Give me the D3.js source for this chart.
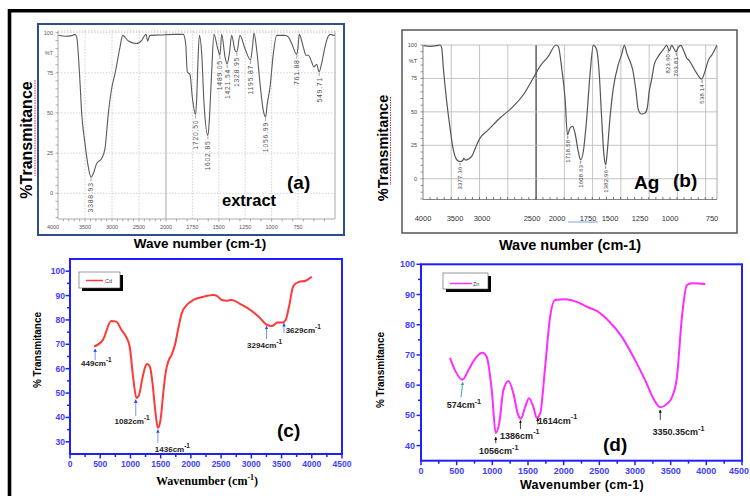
<!DOCTYPE html>
<html><head><meta charset="utf-8">
<script src="https://cdn.jsdelivr.net/npm/d3@7"></script>
<style>body{margin:0;background:#fff}svg{display:block}</style>
</head><body><svg id="chart" width="750" height="496"></svg>
<script>
// ---------------- DATA ----------------
// (a) extract
const aWn = [3990,3870,3746,3685,3654,3605,3561,3500,3439,3389,3346,3284,3191,3130,3068,3006,2944,2852,2802,2698,2543,2450,2370,2339,2296,2111,1931,1836,1814,1798,1773,1751,1720,1710,1697,1684,1662,1640,1603,1590,1567,1546,1510,1489,1473,1441,1421,1400,1378,1347,1329,1300,1252,1200,1180,1167,1141,1110,1079,1057,1041,1015,984,952,873,842,810,762,750,738,700,675,653,621,600,574,550,527,495,464,441,416,400];
const aT  = [98.3,97.7,98.1,98.9,97.3,76.5,49.6,30.9,16.4,10.0,12.3,18.5,21.6,27.8,49.6,65.2,74.5,91,98.3,94.8,93.2,95.2,98.9,94.8,98.3,98.5,98.9,98.9,93.2,75.5,74,59.9,49,58,82.8,98.3,86.9,55.8,36,45.4,76.5,98.9,90,86,98.9,84.8,80.5,86.9,98.3,89,88,98.3,90,83,92,99.8,89,68.3,51.6,47.5,55.8,66.1,86.9,98.3,98.3,97.3,93.2,86.5,91,98.9,91,85.9,85.9,81.7,78.6,80.3,75.5,80.7,91,97.7,98.9,98.3,98.5];
const aPeakLabels = ["3388.93","1720.50","1602.85","1489.05","1421.54","1328.95","1195.87","1056.99","761.88","549.71"];
const aPeakWn = [3389,1720,1603,1489,1421,1329,1200,1057,762,550];
const aPeakT  = [10,49,36,86,80.5,88,83,47.5,86.5,75.5];
const aXTicks = [4000,3500,3000,2500,2000,1750,1500,1250,1000,750];
const aYTicks = [0,25,50,75,100];

// (b) Ag
const bWn = [3995,3923,3849,3812,3793,3775,3738,3701,3665,3627,3591,3561,3550,3530,3499,3462,3406,3370,3296,3149,3002,2891,2781,2707,2615,2530,2504,2467,2430,2403,2375,2345,2320,2283,2257,2228,2190,2154,2117,2080,2051,2025,2000,1980,1963,1933,1896,1841,1804,1774,1748,1712,1682,1645,1620,1583,1546,1521,1499,1473,1444,1399,1344,1306,1277,1251,1225,1203,1178,1151,1115,1085,1056,1019,975,920,883,846,798,752];
const bT  = [99.5,99,99.5,100,97.8,82.8,57.8,37.9,21.7,14.2,12.9,13.7,15.2,14,14.7,16.7,25.4,30.4,35.4,45.4,54.1,62.8,75.3,84,91.5,100,99,82.8,60.4,32.9,37.9,39.1,34.2,20.4,14.2,20.4,45.4,77.8,99.7,96.5,77.8,45.4,17.9,10.5,20.4,45.4,67.8,85.3,92.8,99.7,94,87.8,81.5,65.3,51.6,48.4,49.1,52.9,65.3,74.1,85.3,91.5,96.5,99.7,95.7,99.7,97.2,94.8,98.2,99.7,95.2,90.3,88.3,84,79,74.5,80.3,88.5,93.5,99.7];
const bPeakLabels = ["3377.36","1718.58","1608.63","1382.96","823.60","763.81","538.14"];
const bPeakAt = [3591,2400,2257,1980,1290,1200,915];
const bPeakT  = [12.9,32.9,14.2,10.5,97,94.8,74.5];
const bTickLabels = ["4000","3500","3000","2500","2000","1750","1500","1250","1000","750"];
const bTickAt = [4000,3646,3348,2795,2519,2176,1933,1601,1269,805];
const bYTicks = [0,25,50,75,100];
const bGridStep = 312.5;

// (c) Cd
const cWn = [400,544,682,766,849,921,988,1043,1099,1143,1193,1237,1276,1321,1365,1409,1454,1498,1543,1581,1626,1681,1737,1792,1848,1931,2042,2208,2374,2429,2512,2596,2679,2818,2984,3123,3262,3345,3429,3512,3568,3623,3695,3789,3900,4000];
const cT  = [69.1,71.8,79.6,79.3,76,73.4,69,56.8,48,49.3,55.5,60.2,61.9,60.9,54.1,43.2,35.7,39.1,50,58.2,63,65.7,69.8,76.6,82.7,86.1,88.2,89.5,90.2,89.9,88.2,87.9,88.2,86.5,84.1,81.3,77.9,77.5,78.9,78.9,80,85.4,93.9,95.6,96.1,97.7];
const cNotes = ["449","1082","1436","3294","3629"];
const cArrowWn = [416,1088,1454,3251,3540];
const cArrowTip = [68.1,47.3,35.0,77.5,78.6];
const cArrowTail = [63.6,40.5,29.6,72.1,74.5];
const cNoteWn = [183,738,1404,2930,3568];
const cNoteT = [61.3,37.5,25.8,68.4,74.8];
const cXTicks = [0,500,1000,1500,2000,2500,3000,3500,4000,4500];
const cYTicks = [30,40,50,60,70,80,90,100];

// (d) Zn
const dWn = [407,477,580,664,734,861,922,992,1048,1095,1155,1226,1296,1357,1399,1459,1516,1576,1623,1670,1740,1810,1880,2021,2208,2348,2465,2629,2816,3003,3143,3260,3354,3448,3518,3588,3658,3728,3798,3985];
const dT  = [69,64.9,61.8,64.9,67.9,70.7,69.3,58.3,44.2,47.2,58.3,61.4,57.2,50.5,48.9,52.7,55.7,52.7,49.2,50.5,66,82.6,88.2,88.4,87.3,85.7,84.6,81.3,76,68.2,61.6,55.5,52.7,53.8,56,62.7,82.6,93.1,93.7,93.5];
const dNotes = ["574","1056","1386","1614","3350.35"];
const dArrowWn = [561,1048,1394,1637,3354];
const dArrowTipWn = [585,1048,1394,1637,3354];
const dArrowTip = [61.0,42.8,48.3,49.1,51.8];
const dArrowTail = [56.0,40.8,45.5,47.0,48.5];
const dNoteWn = [360,814,1109,1637,3246];
const dNoteT = [52.4,37.2,42.2,47.2,43.5];
const dXTicks = [0,500,1000,1500,2000,2500,3000,3500,4000,4500];
const dYTicks = [40,50,60,70,80,90,100];

// ---------------- DRAW ----------------
const SANS = "'Liberation Sans', Arial, sans-serif";
const SERIF = "'Liberation Serif', 'Times New Roman', serif";
const svg = d3.select("#chart");
svg.append("rect").attr("width",750).attr("height",496).attr("fill","#fff");
svg.append("path").attr("d","M9.5,496V10.7H750").attr("fill","none").attr("stroke","#000").attr("stroke-width",3.6);

function pts(xs, ys){ return xs.map((x,i)=>[x, ys[i]]); }

// ===== Panel (a) =====
(function(){
  const g = svg.append("g");
  const x = d3.scaleLinear().domain([4000,2000,400]).range([58,166,335]);
  const y = d3.scaleLinear().domain([-16,101]).range([219,31]);
  g.append("rect").attr("x",38).attr("y",24).attr("width",306).attr("height",211)
    .attr("fill","#fff").attr("stroke","#2d4f8e").attr("stroke-width",2);
  g.selectAll(".hg").data(aYTicks).join("line").attr("x1",x(4000)).attr("x2",x(400))
    .attr("y1",d=>y(d)).attr("y2",d=>y(d)).attr("stroke","#c8c8c8").attr("stroke-dasharray","1.5,1.5").attr("stroke-width",0.8);
  g.selectAll(".vg").data(aXTicks.slice(1)).join("line").attr("x1",d=>x(d)).attr("x2",d=>x(d))
    .attr("y1",y(101)).attr("y2",y(-16)).attr("stroke",d=>d===2000?"#b5b5b5":"#c8c8c8")
    .attr("stroke-dasharray",d=>d===2000?null:"1.5,1.5").attr("stroke-width",d=>d===2000?1.2:0.8);
  g.append("line").attr("x1",x(4000)).attr("x2",x(400)).attr("y1",y(101)).attr("y2",y(101)).attr("stroke","#c8c8c8").attr("stroke-dasharray","1.5,1.5");
  g.append("path").attr("d",`M${x(4000)},${y(101)}V${y(-16)}H${x(400)}V${y(101)}`).attr("fill","none").attr("stroke","#a0a0a0").attr("stroke-width",0.9);
  g.selectAll(".ymt").data(d3.range(-15,101,5)).join("line").attr("x1",x(4000)-2.5).attr("x2",x(4000))
    .attr("y1",d=>y(d)).attr("y2",d=>y(d)).attr("stroke","#888").attr("stroke-width",0.7);
  g.selectAll(".xmt").data(d3.range(3900,400,-100)).join("line").attr("x1",d=>x(d)).attr("x2",d=>x(d))
    .attr("y1",y(-16)).attr("y2",y(-16)+2.5).attr("stroke","#888").attr("stroke-width",0.7);
  g.selectAll(".xl").data(aXTicks).join("text").attr("x",d=>x(d)-(d===4000?5:0)).attr("y",y(-16)+10)
    .attr("text-anchor","middle").attr("font-family",SANS).attr("font-size",5.5).attr("fill","#555").text(d=>d);
  g.selectAll(".yl").data(aYTicks).join("text").attr("x",53).attr("y",d=>y(d)+2)
    .attr("text-anchor","end").attr("font-family",SANS).attr("font-size",5.5).attr("fill","#555").text(d=>d);
  g.append("text").attr("x",53).attr("y",y(87)+2).attr("text-anchor","end").attr("font-family",SANS).attr("font-size",5.5).attr("fill","#555").text("%T");
  g.append("path").datum(pts(aWn,aT)).attr("fill","none").attr("stroke","#5a5a5a").attr("stroke-width",1.1)
    .attr("d", d3.line().x(d=>x(d[0])).y(d=>y(d[1])).curve(d3.curveMonotoneX));
  aPeakLabels.forEach((lab,i)=>{
    const px = x(aPeakWn[i]), py = y(aPeakT[i]);
    g.append("line").attr("x1",px).attr("x2",px).attr("y1",py+1).attr("y2",py+4).attr("stroke","#777").attr("stroke-width",0.7);
    g.append("text").attr("transform",`translate(${px},${py+5}) rotate(-90)`).attr("text-anchor","end").attr("dy","0.35em")
      .attr("font-family",SANS).attr("font-size",6.8).attr("letter-spacing",0.8).attr("fill","#555").text(lab);
  });
  g.append("text").attr("x",287).attr("y",189).attr("font-family",SANS).attr("font-weight","bold").attr("font-size",19).text("(a)");
  g.append("text").attr("x",222).attr("y",206).attr("font-family",SANS).attr("font-weight","bold").attr("font-size",16.5).text("extract");
  g.append("text").attr("transform","translate(32,140) rotate(-90)").attr("text-anchor","middle")
    .attr("font-family",SANS).attr("font-weight","bold").attr("font-size",16).text("%Transmitance");
  g.append("line").attr("x1",35).attr("x2",35).attr("y1",80).attr("y2",176).attr("stroke","#e03030").attr("stroke-width",1).attr("stroke-dasharray","1.5,1");
  g.append("text").attr("x",200).attr("y",248).attr("text-anchor","middle")
    .attr("font-family",SANS).attr("font-weight","bold").attr("font-size",13.5).text("Wave number (cm-1)");
})();

// ===== Panel (b) =====
(function(){
  const g = svg.append("g");
  const x = d3.scaleLinear().domain([4000,750]).range([423,717]);
  const y = d3.scaleLinear().domain([-15.5,100]).range([199.5,45]);
  g.append("rect").attr("x",402).attr("y",30).attr("width",335).attr("height",203)
    .attr("fill","#fff").attr("stroke","#555").attr("stroke-width",1.5);
  const grid = d3.range(4000-bGridStep, 740, -bGridStep);
  g.selectAll(".vg").data(grid).join("line").attr("x1",d=>x(d)).attr("x2",d=>x(d)).attr("y1",y(100)).attr("y2",y(-15.5))
    .attr("stroke",(d,i)=>i===3?"#222":"#bdbdbd").attr("stroke-width",(d,i)=>i===3?1.1:0.9);
  g.selectAll(".hg").data(bYTicks).join("line").attr("x1",x(4000)).attr("x2",x(750)).attr("y1",d=>y(d)).attr("y2",d=>y(d))
    .attr("stroke","#bdbdbd").attr("stroke-width",0.9);
  g.append("line").attr("x1",x(750)).attr("x2",x(750)).attr("y1",y(100)).attr("y2",y(-15.5)).attr("stroke","#aaa");
  g.append("path").attr("d",`M${x(4000)},${y(100)}V${y(-15.5)}H${x(750)}`).attr("fill","none").attr("stroke","#777").attr("stroke-width",0.9);
  g.selectAll(".ymt").data(d3.range(-15,101,5)).join("line").attr("x1",x(4000)-2.5).attr("x2",x(4000))
    .attr("y1",d=>y(d)).attr("y2",d=>y(d)).attr("stroke","#666").attr("stroke-width",0.7);
  g.selectAll(".xmt").data(d3.range(4000-78,760,-78)).join("line").attr("x1",d=>x(d)).attr("x2",d=>x(d))
    .attr("y1",y(-15.5)).attr("y2",y(-15.5)-2.5).attr("stroke","#555").attr("stroke-width",0.8);
  g.selectAll(".xl").data(bTickLabels).join("text").attr("x",(d,i)=>x(bTickAt[i])).attr("y",221)
    .attr("text-anchor","middle").attr("font-family",SANS).attr("font-size",7.5).attr("fill","#333").text(d=>d);
  g.append("line").attr("x1",568).attr("x2",598).attr("y1",222).attr("y2",222).attr("stroke","#7aa0e0").attr("stroke-width",1);
  g.selectAll(".yl").data(bYTicks).join("text").attr("x",417).attr("y",d=>y(d)+2)
    .attr("text-anchor","end").attr("font-family",SANS).attr("font-size",5.5).attr("fill","#444").text(d=>d);
  g.append("text").attr("x",417).attr("y",y(88)+2).attr("text-anchor","end").attr("font-family",SANS).attr("font-size",5.5).attr("fill","#444").text("%T");
  g.append("path").datum(pts(bWn,bT)).attr("fill","none").attr("stroke","#555").attr("stroke-width",1.2)
    .attr("d", d3.line().x(d=>x(d[0])).y(d=>y(d[1])).curve(d3.curveMonotoneX));
  bPeakLabels.forEach((lab,i)=>{
    const px = x(bPeakAt[i]), py = y(bPeakT[i]);
    g.append("line").attr("x1",px).attr("x2",px).attr("y1",py+1).attr("y2",py+4).attr("stroke","#556").attr("stroke-width",0.7);
    g.append("text").attr("transform",`translate(${px},${py+5}) rotate(-90)`).attr("text-anchor","end").attr("dy","0.35em")
      .attr("font-family",SANS).attr("font-size",5.8).attr("letter-spacing",0.3).attr("fill","#334").text(lab);
  });
  g.append("text").attr("x",634).attr("y",189).attr("font-family",SANS).attr("font-weight","bold").attr("font-size",19).text("Ag");
  g.append("text").attr("x",673).attr("y",187).attr("font-family",SANS).attr("font-weight","bold").attr("font-size",19).text("(b)");
  g.append("text").attr("transform","translate(388,148) rotate(-90)").attr("text-anchor","middle")
    .attr("font-family",SANS).attr("font-weight","bold").attr("font-size",14.5).text("%Transmitance");
  g.append("line").attr("x1",390.5).attr("x2",390.5).attr("y1",97).attr("y2",185).attr("stroke","#e03030").attr("stroke-width",1).attr("stroke-dasharray","1.5,1");
  g.append("text").attr("x",570).attr("y",250).attr("text-anchor","middle")
    .attr("font-family",SANS).attr("font-weight","bold").attr("font-size",14.5).text("Wave number (cm-1)");
})();

// ===== helpers for Origin-style panels =====
const defs = svg.append("defs");
function marker(id,color){
  defs.append("marker").attr("id",id).attr("viewBox","0 0 10 10").attr("refX",9).attr("refY",5)
    .attr("markerWidth",4).attr("markerHeight",4).attr("orient","auto")
    .append("path").attr("d","M0,0L10,5L0,10z").attr("fill",color);
}
marker("mBlue","#2b4cff"); marker("mBlack","#111"); marker("mTeal","#2aa0a0");

function originPanel(g,x,y,xt,yt,minorX,minorY){
  const AX="#1f1fff", LAB="#3d3dff";
  const [x0,x1]=x.range(), [y0,y1]=y.range();
  g.append("rect").attr("x",x0).attr("y",y1).attr("width",x1-x0).attr("height",y0-y1)
    .attr("fill","none").attr("stroke",AX).attr("stroke-width",2);
  g.selectAll(".mxt").data(minorX).join("line").attr("x1",d=>x(d)).attr("x2",d=>x(d)).attr("y1",y0).attr("y2",y0+3)
    .attr("stroke",AX).attr("stroke-width",1.5);
  g.selectAll(".xt").data(xt).join("line").attr("x1",d=>x(d)).attr("x2",d=>x(d)).attr("y1",y0).attr("y2",y0+4.5)
    .attr("stroke",AX).attr("stroke-width",1.5);
  g.selectAll(".myt").data(minorY).join("line").attr("x1",x0-3).attr("x2",x0).attr("y1",d=>y(d)).attr("y2",d=>y(d))
    .attr("stroke",AX).attr("stroke-width",1.5);
  g.selectAll(".yt").data(yt).join("line").attr("x1",x0-4.5).attr("x2",x0).attr("y1",d=>y(d)).attr("y2",d=>y(d))
    .attr("stroke",AX).attr("stroke-width",1.5);
  return LAB;
}
function note(g,x,y,text,wn,t,fs){
  const tx = g.append("text").attr("x",x(wn)).attr("y",y(t)).attr("font-family",SANS).attr("font-weight","bold")
    .attr("font-size",fs).attr("fill","#222");
  tx.append("tspan").text(text+"cm");
  tx.append("tspan").attr("dy",-fs*0.5).attr("font-size",fs*0.8).text("-1");
}

// ===== Panel (c) =====
(function(){
  const g = svg.append("g");
  const x = d3.scaleLinear().domain([0,4500]).range([70,342]);
  const y = d3.scaleLinear().domain([25,105]).range([454,259]);
  const LAB = originPanel(g,x,y,cXTicks,cYTicks,d3.range(250,4500,500),d3.range(35,105,10));
  g.selectAll(".xl").data(cXTicks).join("text").attr("x",d=>x(d)).attr("y",467).attr("text-anchor","middle")
    .attr("font-family",SANS).attr("font-weight","bold").attr("font-size",8.5).attr("fill",LAB).text(d=>d);
  g.selectAll(".yl").data(cYTicks).join("text").attr("x",65).attr("y",d=>y(d)+3).attr("text-anchor","end")
    .attr("font-family",SANS).attr("font-weight","bold").attr("font-size",8.5).attr("fill",LAB).text(d=>d);
  g.append("rect").attr("x",82).attr("y",275).attr("width",41).attr("height",16).attr("fill","#000");
  g.append("rect").attr("x",79).attr("y",272).attr("width",41).attr("height",16).attr("fill","#fff").attr("stroke","#555").attr("stroke-width",0.6);
  g.append("line").attr("x1",86).attr("x2",103).attr("y1",280.5).attr("y2",280.5).attr("stroke","#ff3b3b").attr("stroke-width",1.5);
  g.append("text").attr("x",105).attr("y",282.5).attr("font-family",SANS).attr("font-size",5.5).attr("fill","#444").text("Cd");
  g.append("path").datum(pts(cWn,cT)).attr("fill","none").attr("stroke","#ff3838").attr("stroke-width",2)
    .attr("d", d3.line().x(d=>x(d[0])).y(d=>y(d[1])).curve(d3.curveMonotoneX));
  cNotes.forEach((n,i)=>{
    g.append("line").attr("x1",x(cArrowWn[i])).attr("x2",x(cArrowWn[i])).attr("y1",y(cArrowTail[i])).attr("y2",y(cArrowTip[i]))
      .attr("stroke","#6f86ff").attr("stroke-width",0.9).attr("marker-end","url(#mBlue)");
    note(g,x,y,n,cNoteWn[i],cNoteT[i],8);
  });
  g.append("text").attr("x",277).attr("y",437).attr("font-family",SANS).attr("font-weight","bold").attr("font-size",19).text("(c)");
  g.append("text").attr("transform","translate(41,350) rotate(-90)").attr("text-anchor","middle")
    .attr("font-family",SANS).attr("font-weight","bold").attr("font-size",10).text("% Transmitance");
  const xl = g.append("text").attr("x",207).attr("y",485).attr("text-anchor","middle").attr("font-family",SERIF).attr("font-weight","bold").attr("font-size",12);
  xl.append("tspan").text("Wavenumber (cm");
  xl.append("tspan").attr("dy",-5).attr("font-size",8).text("-1");
  xl.append("tspan").attr("dy",5).text(")");
})();

// ===== Panel (d) =====
(function(){
  const g = svg.append("g");
  const x = d3.scaleLinear().domain([0,4500]).range([421,742]);
  const y = d3.scaleLinear().domain([35,100]).range([460.7,264.3]);
  const LAB = originPanel(g,x,y,dXTicks,dYTicks,d3.range(250,4500,500),d3.range(45,100,10));
  g.selectAll(".xl").data(dXTicks).join("text").attr("x",d=>d===4500?749:x(d)).attr("y",474)
    .attr("text-anchor",d=>d===4500?"end":"middle")
    .attr("font-family",SANS).attr("font-weight","bold").attr("font-size",9).attr("fill",LAB).text(d=>d);
  g.selectAll(".yl").data(dYTicks).join("text").attr("x",415).attr("y",d=>y(d)+3).attr("text-anchor","end")
    .attr("font-family",SANS).attr("font-weight","bold").attr("font-size",9).attr("fill",LAB).text(d=>d);
  g.append("rect").attr("x",446).attr("y",276).attr("width",45).attr("height",16).attr("fill","#000");
  g.append("rect").attr("x",443).attr("y",273).attr("width",45).attr("height",16).attr("fill","#fff").attr("stroke","#555").attr("stroke-width",0.6);
  g.append("line").attr("x1",450).attr("x2",472).attr("y1",283.5).attr("y2",283.5).attr("stroke","#ff33ff").attr("stroke-width",1.5);
  g.append("text").attr("x",473).attr("y",285.5).attr("font-family",SANS).attr("font-size",5.5).attr("fill","#444").text("Zn");
  g.append("path").datum(pts(dWn,dT)).attr("fill","none").attr("stroke","#ff2cff").attr("stroke-width",2)
    .attr("d", d3.line().x(d=>x(d[0])).y(d=>y(d[1])).curve(d3.curveMonotoneX));
  dNotes.forEach((n,i)=>{
    g.append("line").attr("x1",x(dArrowWn[i])).attr("x2",x(dArrowTipWn[i])).attr("y1",y(dArrowTail[i])).attr("y2",y(dArrowTip[i]))
      .attr("stroke",i===0?"#2aa0a0":"#111").attr("stroke-width",i===0?0.9:0.8).attr("marker-end",i===0?"url(#mTeal)":"url(#mBlack)");
    note(g,x,y,n,dNoteWn[i],dNoteT[i],9);
  });
  g.append("text").attr("x",603).attr("y",451).attr("font-family",SANS).attr("font-weight","bold").attr("font-size",19).text("(d)");
  g.append("text").attr("transform","translate(384,370) rotate(-90)").attr("text-anchor","middle")
    .attr("font-family",SANS).attr("font-weight","bold").attr("font-size",10).text("% Transmitance");
  g.append("text").attr("x",582).attr("y",489).attr("text-anchor","middle").attr("font-family",SANS).attr("font-weight","bold")
    .attr("font-size",12.5).attr("letter-spacing",0.3).text("Wavenumber (cm-1)");
})();
</script></body></html>
